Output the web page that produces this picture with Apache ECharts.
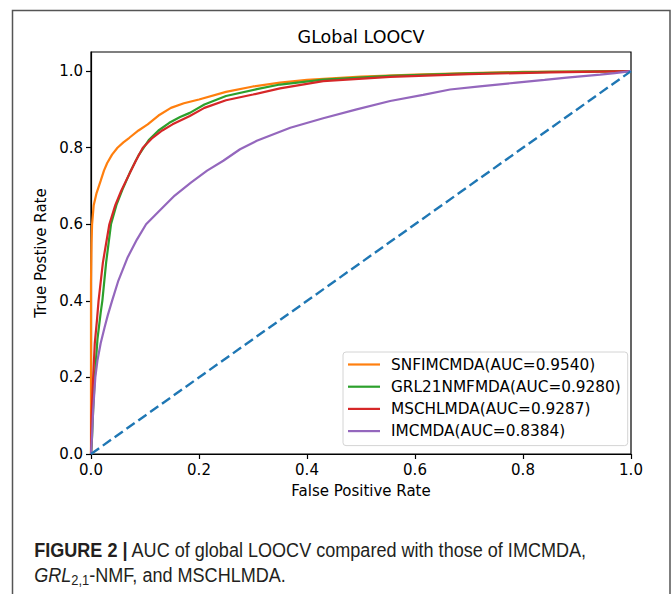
<!DOCTYPE html>
<html>
<head>
<meta charset="utf-8">
<script src="https://cdn.jsdelivr.net/npm/echarts@6/dist/echarts.min.js"></script>
<style>
html,body{margin:0;padding:0;background:#fff;}
#c{width:672px;height:594px;}
</style>
</head>
<body>
<div id="c"></div>
<script>
// ---- data ----
var seriesNames = ['SNFIMCMDA(AUC=0.9540)', 'GRL21NMFMDA(AUC=0.9280)', 'MSCHLMDA(AUC=0.9287)', 'IMCMDA(AUC=0.8384)'];
var tickValues = [0, 0.2, 0.4, 0.6, 0.8, 1.0];

var snfFpr = [0, 0, 0.001, 0.002, 0.005, 0.01, 0.018, 0.024, 0.03, 0.039, 0.049, 0.06, 0.071, 0.088, 0.105, 0.125, 0.148, 0.172, 0.2, 0.25, 0.3, 0.35, 0.4, 0.5, 0.6, 0.7, 0.8, 0.9, 1];
var snfTpr = [0, 0.45, 0.55, 0.6, 0.65, 0.68, 0.714, 0.74, 0.76, 0.782, 0.80, 0.814, 0.826, 0.845, 0.861, 0.884, 0.904, 0.916, 0.926, 0.946, 0.96, 0.97, 0.977, 0.986, 0.991, 0.995, 0.998, 0.999, 1];

var grlFpr = [0, 0.001, 0.002, 0.004, 0.007, 0.012, 0.018, 0.021, 0.028, 0.037, 0.047, 0.058, 0.072, 0.088, 0.107, 0.125, 0.145, 0.165, 0.183, 0.21, 0.25, 0.307, 0.35, 0.43, 0.554, 0.7, 0.85, 1];
var grlTpr = [0, 0.02, 0.045, 0.115, 0.2, 0.3, 0.37, 0.4, 0.5, 0.6, 0.65, 0.69, 0.735, 0.78, 0.82, 0.845, 0.865, 0.88, 0.891, 0.913, 0.935, 0.953, 0.965, 0.978, 0.988, 0.994, 0.998, 1];

var mschFpr = [0, 0.001, 0.004, 0.007, 0.011, 0.014, 0.022, 0.034, 0.045, 0.056, 0.065, 0.083, 0.096, 0.114, 0.132, 0.151, 0.183, 0.21, 0.25, 0.3, 0.35, 0.43, 0.554, 0.7, 0.85, 1];
var mschTpr = [0, 0.1, 0.2, 0.289, 0.349, 0.4, 0.5, 0.6, 0.65, 0.6875, 0.714, 0.766, 0.8, 0.826, 0.845, 0.861, 0.883, 0.904, 0.924, 0.939, 0.955, 0.974, 0.985, 0.992, 0.997, 1];

var imcFpr = [0, 0.002, 0.004, 0.008, 0.012, 0.018, 0.025, 0.031, 0.039, 0.05, 0.068, 0.085, 0.102, 0.13, 0.155, 0.185, 0.215, 0.245, 0.276, 0.307, 0.369, 0.43, 0.492, 0.554, 0.615, 0.665, 0.72, 0.788, 0.84, 0.881, 0.943, 0.97, 1];
var imcTpr = [0, 0.05, 0.115, 0.2, 0.245, 0.29, 0.33, 0.362, 0.4, 0.45, 0.514, 0.56, 0.6, 0.64, 0.675, 0.709, 0.74, 0.766, 0.796, 0.818, 0.852, 0.877, 0.90, 0.922, 0.938, 0.952, 0.96, 0.97, 0.977, 0.983, 0.991, 0.995, 1];

var chanceFpr = [0, 1];
var chanceTpr = [0, 1];

var colors = ['#ff7f0e', '#2ca02c', '#d62728', '#9467bd'];

function pairs(xs, ys) { return xs.map(function (x, i) { return [x, ys[i]]; }); }

var curves = [pairs(snfFpr, snfTpr), pairs(grlFpr, grlTpr), pairs(mschFpr, mschTpr), pairs(imcFpr, imcTpr)];

var FONT = 'DejaVu Sans';
var FS = 15;
var chart = echarts.init(document.getElementById('c'), null, {renderer: 'svg'});

var series = curves.map(function (d, i) {
  return {
    name: seriesNames[i], type: 'line', data: d, showSymbol: false, symbol: 'none',
    color: colors[i], lineStyle: {width: 2.2, color: colors[i]}, animation: false, z: 2 + i
  };
});
series.push({
  name: 'chance', type: 'line', data: pairs(chanceFpr, chanceTpr), showSymbol: false, symbol: 'none',
  lineStyle: {width: 2.4, color: '#1f77b4', type: [10, 4.5]}, animation: false, z: 10
});

chart.setOption({
  backgroundColor: '#fff',
  animation: false,
  grid: {left: 91, right: 41, top: 52, bottom: 140, show: true, borderColor: '#000', borderWidth: 1.2, backgroundColor: 'transparent'},
  xAxis: {
    type: 'value', min: 0, max: 1, interval: 0.2,
    name: 'False Positive Rate', nameLocation: 'middle', nameGap: 29,
    nameTextStyle: {fontFamily: FONT, fontSize: FS, color: '#000'},
    axisLine: {show: true, lineStyle: {color: '#000', width: 1.2}},
    axisTick: {show: true, length: 5, lineStyle: {color: '#000', width: 1.2}},
    axisLabel: {fontFamily: FONT, fontSize: FS, color: '#000', margin: 8, formatter: function (v) { return v.toFixed(1); }},
    splitLine: {show: false}
  },
  yAxis: {
    type: 'value', min: 0, max: 1.05,
    name: 'True Postive Rate', nameLocation: 'middle', nameGap: 42, nameRotate: 90,
    nameTextStyle: {fontFamily: FONT, fontSize: FS, color: '#000'},
    axisLine: {show: true, lineStyle: {color: '#000', width: 1.2}},
    axisTick: {show: true, length: 5, customValues: tickValues, lineStyle: {color: '#000', width: 1.2}},
    axisLabel: {fontFamily: FONT, fontSize: FS, color: '#000', margin: 8, customValues: tickValues,
      formatter: function (v) { return v.toFixed(1); }},
    splitLine: {show: false}
  },
  legend: {
    data: seriesNames, orient: 'vertical', left: 343, top: 352,
    icon: 'rect', itemWidth: 32, itemHeight: 2.2, itemGap: 5.2,
    textStyle: {fontFamily: FONT, fontSize: 15.3, color: '#000', lineHeight: 17, padding: [0, 0, 0, 6]},
    backgroundColor: '#fff', borderColor: '#d4d4d4', borderWidth: 1, borderRadius: 3,
    padding: [4, 7, 6, 5]
  },
  graphic: [
    {type: 'rect', shape: {x: 12.5, y: 10.5, width: 657.5, height: 620}, style: {fill: 'none', stroke: '#555', lineWidth: 1.5}, silent: true, z: 0},
    {type: 'text', x: 361, y: 37, style: {text: 'GLobal LOOCV', fontFamily: FONT, fontSize: 17.5, fill: '#000', align: 'center', verticalAlign: 'middle'}, z: 20},
    {type: 'text', x: 30, y: 549, scaleX: 0.86, originX: 30, originY: 549,
      style: {
        text: '{b|FIGURE 2 |} AUC of global LOOCV compared with those of IMCMDA,',
        fontFamily: 'Liberation Sans', fontSize: 21, fill: '#231f20', verticalAlign: 'middle',
        rich: {b: {fontFamily: 'Liberation Sans', fontWeight: 'bold', fontSize: 21, fill: '#231f20'}}
      }, z: 20},
    {type: 'text', x: 30, y: 574, scaleX: 0.86, originX: 30, originY: 574,
      style: {
        text: '{i|GRL}{s|2,1}-NMF, and MSCHLMDA.',
        fontFamily: 'Liberation Sans', fontSize: 21, fill: '#231f20', verticalAlign: 'middle',
        rich: {
          i: {fontFamily: 'Liberation Sans', fontStyle: 'italic', fontSize: 21, fill: '#231f20'},
          s: {fontFamily: 'Liberation Sans', fontSize: 15, fill: '#231f20', padding: [12, 0, 0, 0]}
        }
      }, z: 20}
  ],
  series: series
});
</script>
</body>
</html>
